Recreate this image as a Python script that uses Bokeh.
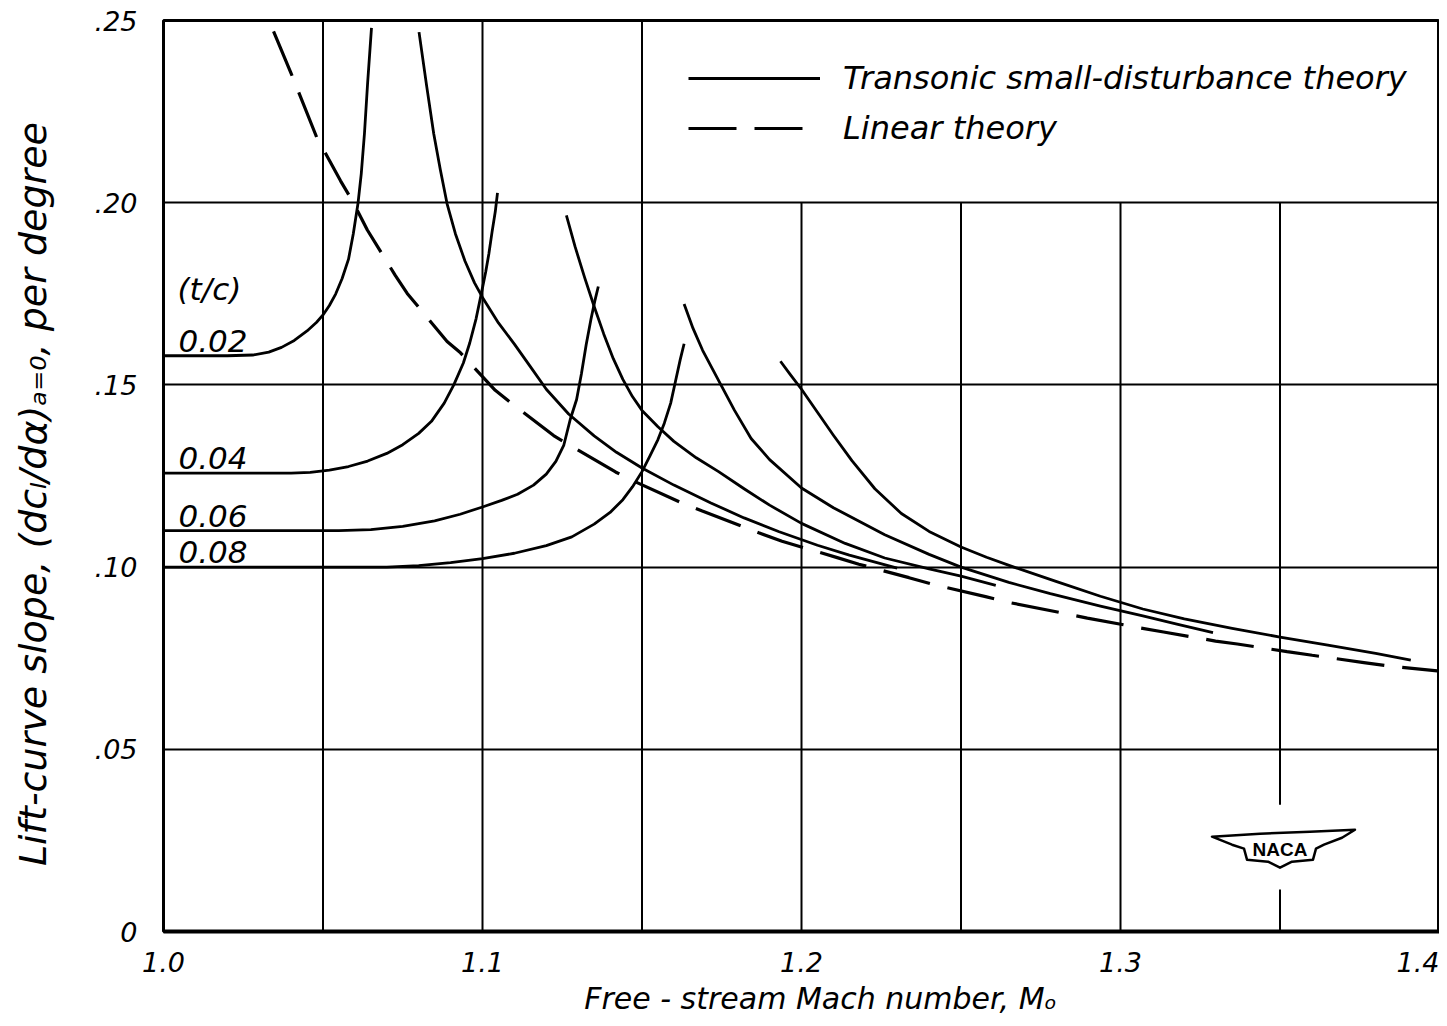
from bokeh.plotting import figure
from bokeh.models import Range1d, FixedTicker, Legend, LegendItem
from bokeh.core.properties import value
from bokeh.embed import file_html
from bokeh.resources import INLINE

FONT = "DejaVu Sans"

# ---------------- data ----------------
x_ticks = [1.0, 1.1, 1.2, 1.3, 1.4]
x_tick_labels = ["1.0", "1.1", "1.2", "1.3", "1.4"]
y_ticks = [0.0, 0.05, 0.10, 0.15, 0.20, 0.25]
y_tick_labels = ["0", ".05", ".10", ".15", ".20", ".25"]
grid_x = [1.05, 1.10, 1.15, 1.20, 1.25, 1.30, 1.35]
grid_y = [0.05, 0.10, 0.15, 0.20]

tc_labels = ["0.02", "0.04", "0.06", "0.08"]

# transonic small-disturbance theory, lower-Mach branches
m_low_002 = [1.000, 1.020, 1.028, 1.033, 1.037, 1.041, 1.045, 1.048, 1.050, 1.052, 1.054, 1.056,
             1.058, 1.0595, 1.061, 1.062, 1.063, 1.064, 1.0652]
v_low_002 = [0.1580, 0.1580, 0.1582, 0.1590, 0.1603, 0.1622, 0.1648, 0.1672, 0.1692, 0.1718, 0.1750, 0.1792,
             0.1845, 0.1915, 0.2000, 0.2080, 0.2190, 0.2330, 0.2480]
m_low_004 = [1.000, 1.040, 1.046, 1.052, 1.058, 1.064, 1.070, 1.075, 1.080, 1.084, 1.088, 1.091,
             1.094, 1.096, 1.098, 1.0995, 1.101, 1.102, 1.103, 1.104, 1.1047]
v_low_004 = [0.1258, 0.1258, 0.1260, 0.1266, 0.1276, 0.1291, 0.1312, 0.1336, 0.1367, 0.1400, 0.1450, 0.1500,
             0.1560, 0.1615, 0.1682, 0.1745, 0.1810, 0.1860, 0.1920, 0.1975, 0.2027]
m_low_006 = [1.000, 1.055, 1.065, 1.075, 1.085, 1.093, 1.100, 1.106, 1.111, 1.116, 1.120, 1.123,
             1.1255, 1.1275, 1.1295, 1.131, 1.1325, 1.134, 1.1352, 1.1363]
v_low_006 = [0.1100, 0.1100, 0.1103, 0.1112, 0.1127, 0.1145, 0.1165, 0.1183, 0.1200, 0.1225, 0.1255, 0.1290,
             0.1335, 0.1405, 0.1460, 0.1530, 0.1610, 0.1680, 0.1730, 0.1770]
m_low_008 = [1.000, 1.070, 1.080, 1.090, 1.100, 1.110, 1.120, 1.128, 1.135, 1.140, 1.144, 1.147,
             1.150, 1.1525, 1.155, 1.157, 1.159, 1.1605, 1.162, 1.1632]
v_low_008 = [0.1000, 0.1000, 0.1004, 0.1012, 0.1023, 0.1038, 0.1059, 0.1083, 0.1118, 0.1150, 0.1185, 0.1220,
             0.1262, 0.1305, 0.1350, 0.1395, 0.1450, 0.1510, 0.1570, 0.1613]

# transonic small-disturbance theory, higher-Mach branches
m_high_002 = [1.0801, 1.0825, 1.0847, 1.0868, 1.0889, 1.0915, 1.0945, 1.0975, 1.100, 1.105, 1.110, 1.115,
              1.120, 1.127, 1.135, 1.142, 1.150, 1.160, 1.1716, 1.182, 1.193, 1.205, 1.215, 1.230]
v_high_002 = [0.2468, 0.2320, 0.2190, 0.2090, 0.1997, 0.1915, 0.1840, 0.1780, 0.1740, 0.1670, 0.1612, 0.1550,
              0.1488, 0.1420, 0.1360, 0.1315, 0.1272, 0.1225, 0.1176, 0.1135, 0.1097, 0.1060, 0.1033, 0.0997]
m_high_004 = [1.1263, 1.1290, 1.1320, 1.1350, 1.1380, 1.1410, 1.1440, 1.1470, 1.1500, 1.1550, 1.1600, 1.1670,
              1.1740, 1.1820, 1.1900, 1.2000, 1.2137, 1.2261, 1.2400, 1.2500, 1.2609]
v_high_004 = [0.1965, 0.1880, 0.1795, 0.1715, 0.1640, 0.1572, 0.1515, 0.1468, 0.1430, 0.1385, 0.1345, 0.1300,
              0.1262, 0.1215, 0.1170, 0.1120, 0.1065, 0.1025, 0.0995, 0.0975, 0.0950]
m_high_006 = [1.1632, 1.1660, 1.1690, 1.1737, 1.1790, 1.1842, 1.1900, 1.2000, 1.2100, 1.2261, 1.2400, 1.2500,
              1.2650, 1.2780, 1.2937, 1.3070, 1.3180, 1.3290]
v_high_006 = [0.1722, 0.1655, 0.1595, 0.1517, 0.1430, 0.1353, 0.1295, 0.1217, 0.1163, 0.1089, 0.1035, 0.1000,
              0.0958, 0.0927, 0.0893, 0.0866, 0.0843, 0.0820]
m_high_008 = [1.1934, 1.1965, 1.2000, 1.2050, 1.2100, 1.2158, 1.2230, 1.2313, 1.2400, 1.2500, 1.2580, 1.2666,
              1.2800, 1.2937, 1.3070, 1.3200, 1.3350, 1.3500, 1.3650, 1.3800, 1.3910]
v_high_008 = [0.1565, 0.1528, 0.1488, 0.1425, 0.1362, 0.1292, 0.1215, 0.1147, 0.1098, 0.1055, 0.1027, 0.1000,
              0.0960, 0.0920, 0.0885, 0.0858, 0.0832, 0.0808, 0.0786, 0.0763, 0.0745]

# linear theory
m_lin = [1.0345, 1.040, 1.048, 1.0555, 1.0596, 1.0639, 1.0727, 1.0764, 1.0889, 1.0931, 1.104, 1.1093,
         1.1223, 1.1278, 1.1417, 1.1464, 1.162, 1.1689, 1.1866, 1.1939, 1.2112, 1.218, 1.2337, 1.241,
         1.2577, 1.2645, 1.2812, 1.2896, 1.3063, 1.3135, 1.3298, 1.3366, 1.3522, 1.3601, 1.3763, 1.3836, 1.3993]
v_lin = [0.247, 0.2355, 0.218, 0.206, 0.1999, 0.1925, 0.180, 0.1751, 0.1619, 0.1588, 0.1485, 0.1448,
         0.1361, 0.1332, 0.1261, 0.124, 0.1178, 0.1154, 0.1094, 0.1071, 0.1026, 0.1008, 0.0971, 0.0953,
         0.0919, 0.0904, 0.0875, 0.0860, 0.0833, 0.0822, 0.0797, 0.0789, 0.0768, 0.0758, 0.0738, 0.0729, 0.0715]

legend_labels = ["Transonic small-disturbance theory", "Linear theory"]
x_title = "Free - stream Mach number, Mₒ"
y_title = "Lift-curve slope, (dcₗ/dα)ₐ₌₀, per degree"
logo_text = "NACA"

# ---------------- figure ----------------
p = figure(width=1439, height=1018, output_backend="svg", toolbar_location=None,
           x_range=Range1d(1.0, 1.4), y_range=Range1d(0.0, 0.25),
           min_border_left=163, min_border_right=0, min_border_top=20, min_border_bottom=85)
p.background_fill_color = "white"
p.border_fill_color = "white"
p.outline_line_color = "black"
p.outline_line_width = 3

# horizontal grid
p.xgrid.visible = False
p.ygrid.ticker = FixedTicker(ticks=grid_y)
p.ygrid.grid_line_color = "black"
p.ygrid.grid_line_width = 2

# vertical grid lines (they stop under the legend box)
box_x0, box_y0 = 1.15, 0.20
tops = [0.25 if gx <= box_x0 + 1e-9 else box_y0 for gx in grid_x]
p.segment(x0=grid_x, y0=[0.0] * len(grid_x), x1=grid_x, y1=tops, line_color="black", line_width=2)

# axes
for ax in (p.xaxis[0], p.yaxis[0]):
    ax.axis_line_color = None
    ax.major_tick_line_color = None
    ax.minor_tick_line_color = None
    ax.major_label_text_font = FONT
    ax.major_label_text_font_style = "italic"
    ax.major_label_text_font_size = "27px"
    ax.major_label_text_color = "black"
    ax.axis_label_text_font = FONT
    ax.axis_label_text_font_style = "italic"
    ax.axis_label_text_color = "black"

p.xaxis.ticker = FixedTicker(ticks=x_ticks)
p.xaxis.major_label_overrides = dict(zip(x_ticks, x_tick_labels))
p.yaxis.ticker = FixedTicker(ticks=y_ticks)
p.yaxis.major_label_overrides = dict(zip(y_ticks, y_tick_labels))
p.xaxis.major_label_standoff = 14
p.yaxis.major_label_standoff = 20

# axis titles (non-breaking spaces nudge the centred titles to the reference position)
NB = "\u00a0"
p.xaxis.axis_label = NB * 4 + x_title
p.yaxis.axis_label = y_title + NB * 3
p.xaxis.axis_label_text_font_size = "30px"
p.yaxis.axis_label_text_font_size = "38px"
p.xaxis.axis_label_standoff = 6
p.yaxis.axis_label_standoff = 37

# thick bottom line
p.xaxis.axis_line_color = "black"
p.xaxis.axis_line_width = 4

# curves
LW = 2.8
low = [(m_low_002, v_low_002), (m_low_004, v_low_004), (m_low_006, v_low_006), (m_low_008, v_low_008)]
high = [(m_high_002, v_high_002), (m_high_004, v_high_004), (m_high_006, v_high_006), (m_high_008, v_high_008)]
solid_renderers = []
for m, v in low + high:
    solid_renderers.append(p.line(m, v, line_color="black", line_width=LW, line_join="round"))
lin_r = p.line(m_lin, v_lin, line_color="black", line_width=3.2, line_dash="48 18")

# t/c labels
flat_vals = [v_low_002[0], v_low_004[0], v_low_006[0], v_low_008[0]]
p.text(x=[1.0] * 4, y=flat_vals, text=tc_labels, x_offset=15, y_offset=-4,
       text_baseline="bottom", text_align="left", text_font=value(FONT),
       text_font_style="italic", text_font_size="31px", text_color="black")
p.text(x=[1.0], y=[flat_vals[0]], text=["(t/c)"], x_offset=14, y_offset=-49,
       text_baseline="bottom", text_align="left", text_font=value(FONT),
       text_font_style="italic", text_font_size="31px", text_color="black")

# legend
legend = Legend(items=[LegendItem(label=legend_labels[0], renderers=[solid_renderers[0]]),
                       LegendItem(label=legend_labels[1], renderers=[lin_r])],
                location=(525, 783), orientation="vertical")
legend.glyph_width = 132
legend.glyph_height = 40
legend.label_height = 40
legend.spacing = 10
legend.padding = 0
legend.margin = 0
legend.label_standoff = 23
legend.border_line_color = None
legend.background_fill_alpha = 0
legend.label_text_font = FONT
legend.label_text_font_style = "italic"
legend.label_text_font_size = "32px"
legend.label_text_color = "black"
p.add_layout(legend, "center")

# NACA emblem (decoration) near M=1.35, 0.025
sx = 0.4 / 1276.0
sy = 0.25 / 913.0
cx, cy = 1.35, 0.0230
p.quad(left=[cx - 6 * sx], right=[cx + 6 * sx], bottom=[cy - 42 * sy], top=[cy + 43 * sy],
       fill_color="white", line_color=None)
wing_px = [(-68, 11), (-20, 14), (30, 16), (75, 18), (62, 10), (44, 3), (36, -1), (33, -12), (12, -14),
           (0, -20), (-12, -14), (-33, -12), (-36, -1), (-48, 3)]
p.patch([cx + dx * sx for dx, dy in wing_px], [cy + dy * sy for dx, dy in wing_px],
        fill_color="white", line_color="black", line_width=2.5, line_join="round")
p.text(x=[cx], y=[cy], text=[logo_text], y_offset=2, text_align="center", text_baseline="middle",
       text_font=value("Liberation Sans"), text_font_style="bold", text_font_size="19px",
       text_color="black")

open("out.html", "w").write(file_html(p, INLINE))
